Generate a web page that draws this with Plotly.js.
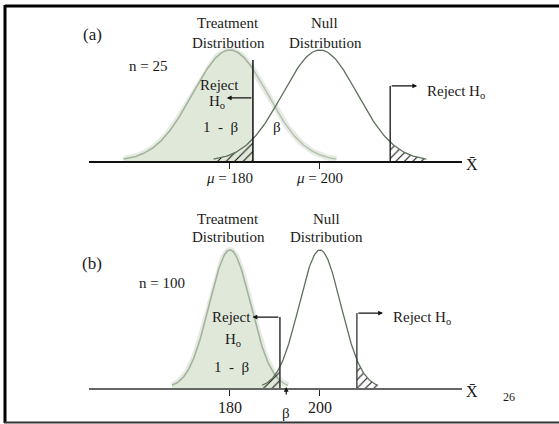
<!DOCTYPE html>
<html>
<head>
<meta charset="utf-8">
<script src="https://cdn.plot.ly/plotly-3.0.1.min.js"></script>
<style>
  html, body { margin: 0; padding: 0; background: #fff; }
  #chart { width: 559px; height: 424px; }
</style>
</head>
<body>
<div id="chart"></div>
<script>
// ---- data ----
const panelLabels = ['(a)', '(b)'];
const sampleSizes = [25, 100];
const treatmentMeans = [180, 180];
const nullMeans = [200, 200];
const standardErrors = [8.3, 4.6];      // spread of each sampling distribution (X̄ units)
const tailExtents = [2.85, 2.8];        // how far the drawn curves reach, in standard errors
const criticalLow = [185.1, 191.1];
const criticalHigh = [215.6, 208.2];
const tickValues = [180, 200];
const tickLabelsA = ['<i>μ</i> = 180', '<i>μ</i> = 200'];
const tickLabelsB = ['180', '200'];
const pageNumber = '26';

// ---- helpers ----
const W = 559, H = 424;
const FONT = 'Liberation Serif, Times New Roman, serif';
const px = x => x / W;
const py = y => 1 - y / H;

function curve(mu, sd, ext, from, to) {
  const lo = Math.max(mu - ext * sd, from === undefined ? -Infinity : from);
  const hi = Math.min(mu + ext * sd, to === undefined ? Infinity : to);
  const xs = [], ys = [];
  const n = 160;
  for (let i = 0; i <= n; i++) {
    const x = lo + (hi - lo) * i / n;
    const z = (x - mu) / sd;
    xs.push(x);
    ys.push(Math.exp(-0.5 * z * z));
  }
  return { x: xs, y: ys };
}

const traces = [];
const shapes = [];
const annotations = [];
const axisIds = [['x', 'y'], ['x2', 'y2']];

// placement per panel (pixel-derived layout, not data)
const style = [
  { lowTop: 0.91, lowArrowY: 0.568, lowArrowTip: 179.3, highTop: 0.676, highArrowTip: 221.6, lineColor: '#111' },
  { lowTop: 0.514, lowArrowY: 0.514, lowArrowTip: 185.0, highTop: 0.543, highArrowTip: 214.0, lineColor: '#333' }
];

for (let p = 0; p < 2; p++) {
  const [xa, ya] = axisIds[p];
  const mt = treatmentMeans[p], m0 = nullMeans[p], sd = standardErrors[p], ext = tailExtents[p];
  const lo = criticalLow[p], hi = criticalHigh[p];

  const tAll = curve(mt, sd, ext);
  traces.push({ x: tAll.x, y: tAll.y, xaxis: xa, yaxis: ya, mode: 'lines',
    line: { color: '#e6ebe4', width: 6 }, hoverinfo: 'skip' });
  const tRight = curve(mt, sd, ext, lo);
  traces.push({ x: tRight.x, y: tRight.y, xaxis: xa, yaxis: ya, mode: 'lines',
    line: { color: '#b4c0b0', width: 1.4 }, hoverinfo: 'skip' });
  const tLeft = curve(mt, sd, ext, undefined, lo);
  traces.push({ x: tLeft.x, y: tLeft.y, xaxis: xa, yaxis: ya, mode: 'lines',
    fill: 'tozeroy', fillcolor: '#e0e9d9', line: { color: '#a3b39e', width: 1.6 }, hoverinfo: 'skip' });
  const nLow = curve(m0, sd, ext, undefined, lo);
  traces.push({ x: nLow.x, y: nLow.y, xaxis: xa, yaxis: ya, mode: 'lines',
    fill: 'tozeroy', fillcolor: 'rgba(0,0,0,0)', line: { width: 0, color: 'rgba(0,0,0,0)' },
    fillpattern: { shape: '/', fgcolor: '#111', size: 6, solidity: 0.18 }, hoverinfo: 'skip' });
  const nHigh = curve(m0, sd, ext, hi);
  traces.push({ x: nHigh.x, y: nHigh.y, xaxis: xa, yaxis: ya, mode: 'lines',
    fill: 'tozeroy', fillcolor: 'rgba(0,0,0,0)', line: { width: 0, color: 'rgba(0,0,0,0)' },
    fillpattern: { shape: '/', fgcolor: '#111', size: 6, solidity: 0.18 }, hoverinfo: 'skip' });
  const nAll = curve(m0, sd, ext);
  traces.push({ x: nAll.x, y: nAll.y, xaxis: xa, yaxis: ya, mode: 'lines',
    line: { color: '#5d705c', width: 1.3 }, hoverinfo: 'skip' });

  const s = style[p];
  shapes.push({ type: 'line', xref: xa, yref: ya, x0: lo, x1: lo, y0: 0, y1: s.lowTop,
    line: { color: s.lineColor, width: 1.5 } });
  shapes.push({ type: 'line', xref: xa, yref: ya, x0: hi, x1: hi, y0: 0, y1: s.highTop,
    line: { color: s.lineColor, width: 1.3 } });
  annotations.push({ xref: xa, yref: ya, axref: xa, ayref: ya, x: s.lowArrowTip, y: s.lowArrowY,
    ax: lo, ay: s.lowArrowY, text: '', showarrow: true, arrowhead: 2, arrowsize: 0.8, arrowwidth: 1.2,
    arrowcolor: '#111', standoff: 0, startstandoff: 0 });
  annotations.push({ xref: xa, yref: ya, axref: xa, ayref: ya, x: s.highArrowTip, y: s.highTop,
    ax: hi, ay: s.highTop, text: '', showarrow: true, arrowhead: 2, arrowsize: 0.8, arrowwidth: 1.2,
    arrowcolor: '#111', standoff: 0, startstandoff: 0 });
}

function label(text, x, y, size, extra) {
  annotations.push(Object.assign({
    xref: 'paper', yref: 'paper', x: px(x), y: py(y), text: text, showarrow: false,
    xanchor: 'center', yanchor: 'middle', font: { family: FONT, size: size, color: '#1a1a1a' }
  }, extra || {}));
}
function tickLabel(text, axis, value, y, size) {
  annotations.push({ xref: axis, yref: 'paper', x: value, y: py(y), text: text, showarrow: false,
    xanchor: 'center', yanchor: 'middle', font: { family: FONT, size: size, color: '#1a1a1a' } });
}

// panel (a) texts
label('Treatment', 228, 23, 15);
label('Distribution', 228, 43, 15);
label('Null', 324, 23, 15);
label('Distribution', 325, 43, 15);
label(panelLabels[0], 92, 35, 17);
label('n = ' + sampleSizes[0], 148, 66, 15);
label('Reject', 219, 85, 15);
label('H<sub>o</sub>', 217, 102, 15);
label('1\u2002-\u2002β', 220, 127, 15);
label('β', 277, 127, 15);
label('Reject H<sub>o</sub>', 456, 92, 15);
label('X̄', 472, 164, 16);
tickValues.forEach((v, i) => tickLabel(tickLabelsA[i], 'x', v, 178, 15));

// panel (b) texts
label('Treatment', 228, 219, 15);
label('Distribution', 228, 237, 15);
label('Null', 326, 219, 15);
label('Distribution', 327, 237, 15);
label(panelLabels[1], 92, 263, 17);
label('n = ' + sampleSizes[1], 162, 283, 15);
label('Reject', 231, 317, 15);
label('H<sub>o</sub>', 233, 340, 15);
label('1\u2002-\u2002β', 231, 367, 15);
label('Reject H<sub>o</sub>', 422, 318, 15);
label('X̄', 472, 391, 16);
label('β', 286, 413, 15);
label(pageNumber, 509, 397, 12);
tickValues.forEach((v, i) => tickLabel(tickLabelsB[i], 'x2', v, 407, 16));
annotations.push({ xref: 'x2', yref: 'paper', x: (criticalLow[1] + 1.4), y: py(387), ax: 0, ay: 9,
  text: '', showarrow: true, arrowhead: 2, arrowsize: 0.8, arrowwidth: 1.2, arrowcolor: '#111', standoff: 0 });

// slide frame
shapes.push({ type: 'line', xref: 'paper', yref: 'paper', x0: px(5), x1: 1.05, y0: py(6), y1: py(6), line: { color: '#000', width: 3 } });
shapes.push({ type: 'line', xref: 'paper', yref: 'paper', x0: px(5), x1: px(5), y0: py(5), y1: py(423), line: { color: '#000', width: 3 } });
shapes.push({ type: 'line', xref: 'paper', yref: 'paper', x0: px(4), x1: 1.05, y0: py(422.5), y1: py(422.5), line: { color: '#333', width: 2 } });

const xRange = [148.67, 231.56];
function xAxis(anchor, color) {
  return {
    domain: [px(89), px(462)], range: xRange, anchor: anchor,
    showline: true, linecolor: color, linewidth: 1.6, mirror: false,
    showgrid: false, zeroline: false, ticks: 'outside', ticklen: 6, tickwidth: 1, tickcolor: '#222',
    tickvals: tickValues, showticklabels: false, fixedrange: true
  };
}
function yAxis(anchor, top, bottom, peakPx) {
  const span = bottom - top;
  return {
    domain: [py(bottom), py(top)], range: [0, span / peakPx], anchor: anchor,
    visible: false, showgrid: false, zeroline: false, fixedrange: true
  };
}

const layout = {
  width: W, height: H,
  margin: { l: 0, r: 0, t: 0, b: 0 },
  paper_bgcolor: '#fff', plot_bgcolor: 'rgba(0,0,0,0)',
  showlegend: false,
  xaxis: xAxis('y', '#111'),
  yaxis: yAxis('x', 10, 161, 111),
  xaxis2: xAxis('y2', '#666'),
  yaxis2: yAxis('x2', 215, 388, 138),
  shapes: shapes,
  annotations: annotations
};

Plotly.newPlot('chart', traces, layout, { staticPlot: true, displayModeBar: false });
</script>
</body>
</html>
